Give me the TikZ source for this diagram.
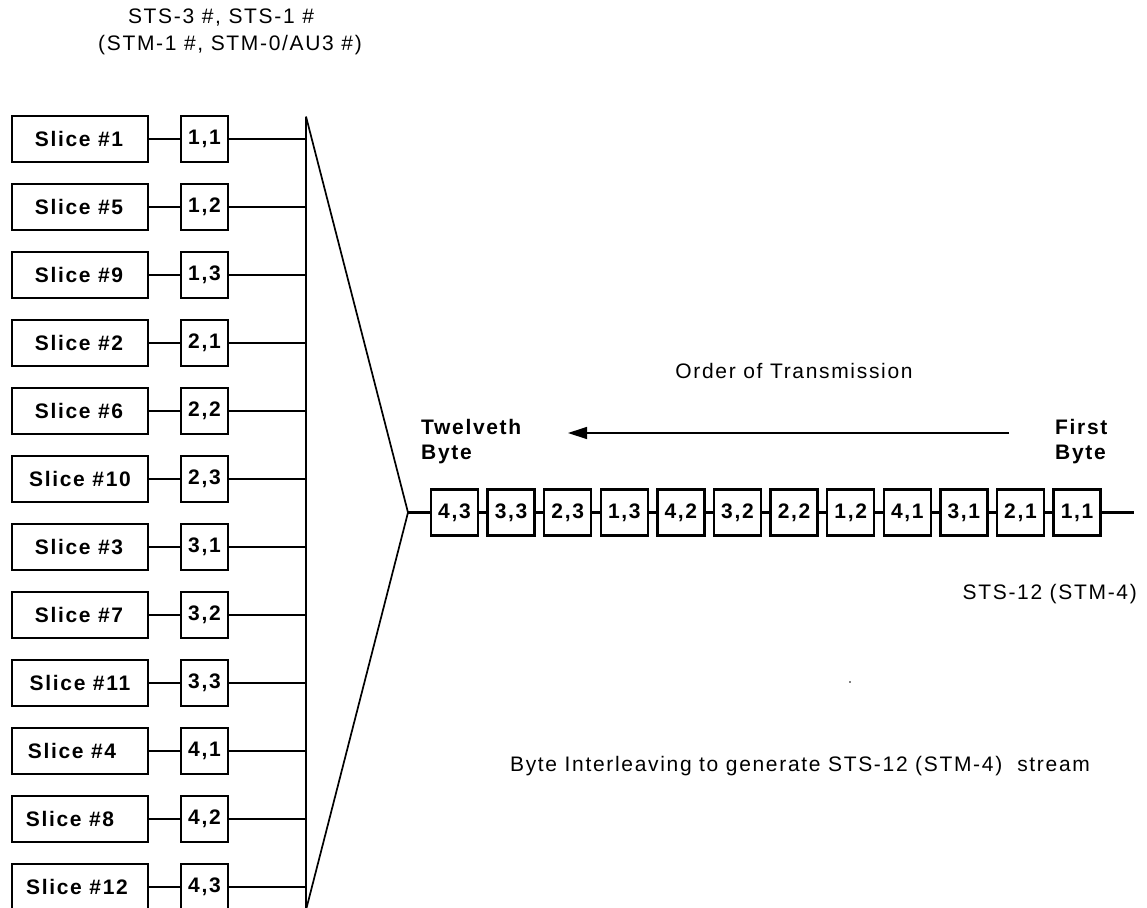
\documentclass[tikz,border=0pt]{standalone}
\usepackage{fontspec}
\setmainfont{Liberation Sans}
\newfontfamily\trk[LetterSpace=8]{Liberation Sans}
\usetikzlibrary{arrows.meta}
\begin{document}
\begin{tikzpicture}[x=1pt,y=-1pt,
  lbl/.style={font=\trk\bfseries\fontsize{21}{25}\selectfont, inner sep=0},
  txt/.style={font=\trk\fontsize{21}{25}\selectfont, inner sep=0},
  slicebox/.style={draw, line width=2.3pt, minimum width=136pt, minimum height=46pt, inner sep=0},
  bytebox/.style={draw, line width=2.3pt, minimum width=47pt, minimum height=46pt, inner sep=0, lbl},
  wire/.style={line width=2.7pt},
  thin/.style={line width=1.7pt}]
\useasboundingbox (0,0) rectangle (1147,907);

% left column
\foreach \s/\b/\dx [count=\k from 0] in {1/{1,1}/-1,5/{1,2}/-1,9/{1,3}/-1,2/{2,1}/-1,6/{2,2}/-1,10/{2,3}/0,3/{3,1}/-1,7/{3,2}/-1,11/{3,3}/0,4/{4,1}/-8,8/{4,2}/-10,12/{4,3}/-3}{
  \node[slicebox] (s\s) at (80,139+68*\k) {};
  \node[lbl] (sl\s) at ([xshift=\dx pt]s\s.center) {Slice \#\s};
  \node[bytebox] (b\s) at (204.5,139+68*\k) {\b};
}
\coordinate (bustop) at (306,116.5);
\coordinate (busbot) at (306,910);
\coordinate (apex) at (408,512.5);
\draw[wire] (bustop) -- (busbot);
\foreach \s in {1,...,12}{
  \draw[wire] (s\s.east) -- (b\s.west);
  \draw[wire] (b\s.east) -- (b\s.east -| bustop);
}
\draw[thin] (bustop) -- (apex) -- (busbot);

% chain
\foreach \t [count=\i from 0] in {{4,3},{3,3},{2,3},{1,3},{4,2},{3,2},{2,2},{1,2},{4,1},{3,1},{2,1},{1,1}}{
  \node[bytebox] (c\i) at (454.5+56.6*\i,512.5) {\t};
}
\draw[wire] (apex) -- (c0.west);
\foreach \i [evaluate=\i as \j using int(\i+1)] in {0,...,10}{
  \draw[wire] (c\i.east) -- (c\j.west);
}
\coordinate (chainend) at (1134,512.5);
\draw[wire] (c11.east) -- (chainend);

% arrow
\coordinate (arrS) at (1009,433);
\coordinate (arrE) at (568,433);
\draw[line width=1.3pt, -{Triangle[length=19pt,width=12pt]}] (arrS) -- (arrE);

% texts
\node[txt] (t1) at (221,17.5) {STS-3 \#, STS-1 \#};
\node[txt] (t2) at (230,45.5) {(STM-1 \#, STM-0/AU3 \#)};
\node[txt] (ord) at (794,371) {Order of Transmission};
\node[lbl, anchor=north west, align=left] (tw) at (421,419) {Twelveth\\Byte};
\node[lbl, anchor=north west, align=left] (fb) at (1055,419) {First\\Byte};
\node[txt, anchor=east] (sts) at (1137,594) {STS-12 (STM-4)};
\node[txt] (bi) at (800,766) {Byte Interleaving to generate STS-12 (STM-4)\ \ stream};
\fill (850,682) circle (0.9);
\end{tikzpicture}
\end{document}
